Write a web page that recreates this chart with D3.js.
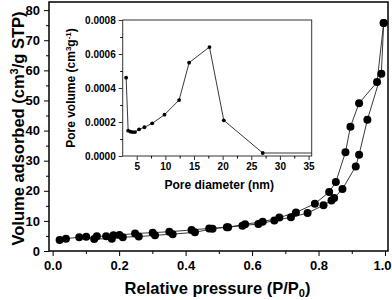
<!DOCTYPE html>
<html>
<head>
<meta charset="utf-8">
<script src="https://cdn.jsdelivr.net/npm/d3@7"></script>
<style>
  body { margin: 0; background: #fff; }
  svg { display: block; font-family: "Liberation Sans", Arial, sans-serif; font-weight: bold; }
</style>
</head>
<body>
<svg id="chart" width="392" height="300"></svg>
<script>
// adsorption branch (lower)
const adsP = [0.021, 0.040, 0.080, 0.101, 0.125, 0.178, 0.211, 0.259, 0.308, 0.361, 0.428, 0.481,
  0.524, 0.571, 0.619, 0.667, 0.717, 0.767, 0.815, 0.839, 0.847, 0.872, 0.912, 0.922, 0.947, 0.989, 0.996];
const adsV = [3.65, 4.1, 4.6, 4.7, 4.0, 4.1, 4.6, 4.8, 5.2, 5.6, 6.2, 7.4,
  7.9, 8.4, 9.0, 10.1, 11.2, 12.6, 15.2, 16.8, 17.6, 20.6, 28.1, 32.0, 43.6, 58.9, 75.7];
// desorption branch (upper)
const desP = [0.996, 0.976, 0.922, 0.896, 0.881, 0.852, 0.832, 0.789, 0.732, 0.682, 0.632, 0.579,
  0.528, 0.471, 0.418, 0.351, 0.301, 0.248, 0.201, 0.183, 0.161, 0.133];
const desV = [75.7, 56.1, 49.1, 41.3, 32.8, 22.9, 19.6, 15.7, 12.8, 11.1, 9.7, 8.9,
  7.9, 7.5, 7.0, 6.4, 6.1, 5.8, 5.3, 5.2, 4.9, 4.9];
// inset: pore size distribution
const poreD = [3.15, 3.5, 3.9, 4.3, 4.7, 5.4, 6.35, 7.7, 9.85, 12.4, 14.15, 17.7, 20.2, 27.0];
const poreV = [0.000461, 0.000149, 0.000143, 0.000141, 0.000141, 0.000157, 0.000169, 0.000192,
  0.000243, 0.000329, 0.000549, 0.000641, 0.000210, 0.0000176];
const poreTail = [36, 0.0000176];

const xTicks = [0, 0.2, 0.4, 0.6, 0.8, 1.0];
const yTicks = [0, 10, 20, 30, 40, 50, 60, 70, 80];
const inXTicks = [5, 10, 15, 20, 25, 30, 35];
const inYTicks = [0, 0.0002, 0.0004, 0.0006, 0.0008];

const svg = d3.select("#chart");

// main plot
const mLeft = 49, mRight = 388, mTop = 2, mBottom = 251;
const x = d3.scaleLinear().domain([-0.011, 1.009]).range([mLeft, mRight]);
const y = d3.scaleLinear().domain([0, 82.7]).range([mBottom, mTop]);

const xAxis = svg.append("g").attr("transform", `translate(0,${mBottom})`)
  .call(d3.axisBottom(x).tickValues(xTicks).tickFormat(d3.format(".1f")).tickSize(5).tickPadding(5));
svg.append("g").attr("transform", `translate(0,${mBottom})`)
  .call(d3.axisBottom(x).tickValues(d3.range(0.1, 1, 0.2)).tickFormat("").tickSize(3))
  .select(".domain").remove();
const yAxis = svg.append("g").attr("transform", `translate(${mLeft},0)`)
  .call(d3.axisLeft(y).tickValues(yTicks).tickSize(5).tickPadding(4));
svg.append("g").attr("transform", `translate(${mLeft},0)`)
  .call(d3.axisLeft(y).tickValues(d3.range(5, 80, 10)).tickFormat("").tickSize(3))
  .select(".domain").remove();
[xAxis, yAxis].forEach(a => {
  a.select(".domain").remove();
  a.selectAll("text").attr("font-size", 13).attr("font-weight", "bold").attr("fill", "#000")
    .attr("font-family", "Liberation Sans, Arial, sans-serif");
});
// last x label sits right at the page edge; keep it inside
xAxis.selectAll(".tick text").filter(d => d === 1).attr("dx", -3);
svg.selectAll(".tick line").attr("stroke", "#000").attr("stroke-width", 1);

svg.append("rect").attr("x", mLeft).attr("y", mTop).attr("width", mRight - mLeft).attr("height", mBottom - mTop)
  .attr("fill", "none").attr("stroke", "#000").attr("stroke-width", 1.5);

const line = d3.line().x(d => x(d[0])).y(d => y(d[1]));
const ads = adsP.map((p, i) => [p, adsV[i]]);
const des = desP.map((p, i) => [p, desV[i]]);
[ads, des].forEach(s => {
  svg.append("path").datum(s).attr("d", line).attr("fill", "none").attr("stroke", "#222").attr("stroke-width", 0.9);
});
[ads, des].forEach(s => {
  svg.append("g").selectAll("circle").data(s).join("circle")
    .attr("cx", d => x(d[0])).attr("cy", d => y(d[1])).attr("r", 4).attr("fill", "#000");
});

svg.append("text").attr("x", (mLeft + mRight) / 2 - 1).attr("y", 294).attr("text-anchor", "middle")
  .attr("font-size", 16.5)
  .call(t => {
    t.append("tspan").text("Relative pressure (P/P");
    t.append("tspan").attr("font-size", 11).attr("dy", 3).text("0");
    t.append("tspan").attr("dy", -3).text(")");
  });
svg.append("text").attr("transform", `translate(24,${(mTop + mBottom) / 2 + 2}) rotate(-90)`)
  .attr("text-anchor", "middle").attr("font-size", 16.5)
  .call(t => {
    t.append("tspan").text("Volume adsorbed (cm");
    t.append("tspan").attr("font-size", 11).attr("dy", -6).text("3");
    t.append("tspan").attr("dy", 6).text("/g STP)");
  });

// inset
const il = 122.7, ir = 311.7, it = 20, ib = 156;
const ix = d3.scaleLinear().domain([2.55, 35.55]).range([il, ir]);
const iy = d3.scaleLinear().domain([0, 0.0008]).range([ib, it]);

svg.append("rect").attr("x", il).attr("y", it).attr("width", ir - il).attr("height", ib - it)
  .attr("fill", "#fff").attr("stroke", "#333").attr("stroke-width", 1);

const ixAxis = svg.append("g").attr("transform", `translate(0,${ib})`)
  .call(d3.axisBottom(ix).tickValues(inXTicks).tickSize(4).tickPadding(3));
svg.append("g").attr("transform", `translate(0,${ib})`)
  .call(d3.axisBottom(ix).tickValues(d3.range(2.5, 35, 5).filter(v => v > 2.55)).tickFormat("").tickSize(2.5))
  .select(".domain").remove();
const iyAxis = svg.append("g").attr("transform", `translate(${il},0)`)
  .call(d3.axisLeft(iy).tickValues(inYTicks).tickFormat(d3.format(".4f")).tickSize(4).tickPadding(3));
svg.append("g").attr("transform", `translate(${il},0)`)
  .call(d3.axisLeft(iy).tickValues([0.0001, 0.0003, 0.0005, 0.0007]).tickFormat("").tickSize(2.5))
  .select(".domain").remove();
[ixAxis, iyAxis].forEach(a => {
  a.select(".domain").remove();
  a.selectAll("text").attr("font-size", 10).attr("font-weight", "bold").attr("fill", "#000")
    .attr("font-family", "Liberation Sans, Arial, sans-serif");
  a.selectAll("line").attr("stroke", "#333");
});

const pore = poreD.map((d, i) => [d, poreV[i]]);
const il2 = d3.line().x(d => ix(d[0])).y(d => iy(d[1]));
svg.append("clipPath").attr("id", "inclip").append("rect")
  .attr("x", il).attr("y", it).attr("width", ir - il).attr("height", ib - it);
svg.append("path").datum(pore.concat([poreTail])).attr("d", il2).attr("clip-path", "url(#inclip)")
  .attr("fill", "none").attr("stroke", "#222").attr("stroke-width", 0.9);
svg.append("g").selectAll("circle").data(pore).join("circle")
  .attr("cx", d => ix(d[0])).attr("cy", d => iy(d[1])).attr("r", 1.9).attr("fill", "#000");

svg.append("text").attr("x", (il + ir) / 2 + 2).attr("y", 189).attr("text-anchor", "middle")
  .attr("font-size", 12).text("Pore diameter (nm)");
svg.append("text").attr("transform", `translate(75,${(it + ib) / 2}) rotate(-90)`)
  .attr("text-anchor", "middle").attr("font-size", 12)
  .call(t => {
    t.append("tspan").text("Pore volume (cm");
    t.append("tspan").attr("font-size", 8).attr("dy", -4).text("3");
    t.append("tspan").attr("dy", 4).text("g");
    t.append("tspan").attr("font-size", 8).attr("dy", -4).text("-1");
    t.append("tspan").attr("dy", 4).text(")");
  });
</script>
</body>
</html>
